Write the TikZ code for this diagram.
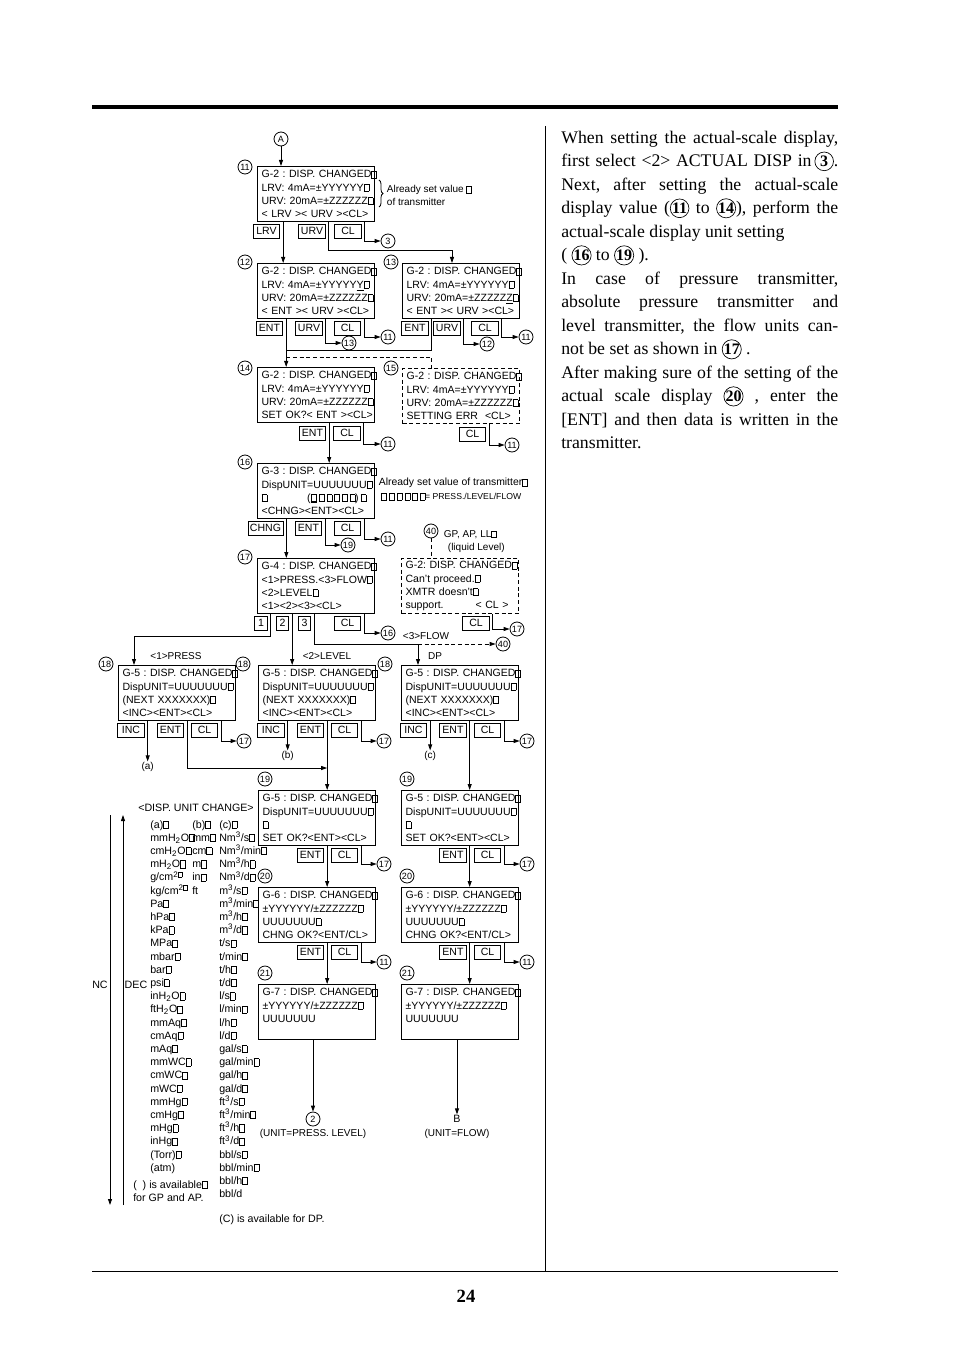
\documentclass[tikz,border=0pt]{standalone}
\usepackage{fontspec}
\setmainfont{Liberation Serif}
\setsansfont{Liberation Sans}
\usetikzlibrary{positioning,arrows.meta,decorations.pathreplacing}
\setlength{\parindent}{0pt}
\frenchspacing
\newcommand{\sq}{{\setlength{\fboxsep}{0pt}\setlength{\fboxrule}{0.4pt}\fbox{\rule{0pt}{0.62em}\hspace{0.42em}}}}
\newcommand{\sqb}{{\setlength{\fboxsep}{0pt}\setlength{\fboxrule}{1pt}\fbox{\rule{0pt}{0.56em}\hspace{0.36em}}}}
\newcommand{\sqrow}{\sqb\kern1.6pt\sq\kern1.6pt\sq\kern1.6pt\sq\kern1.6pt\sq\kern1.6pt\sq}
\newcommand{\lcdtext}[4]{\mbox{#1}\\\mbox{#2}\\\mbox{#3}\\\mbox{#4}}
\newcommand{\cnum}[1]{\tikz[baseline=(cn.base)]\node[circle, draw, line width=0.5pt, inner sep=0pt,
  minimum size=14pt, font=\fontsize{12}{12}\selectfont\bfseries] (cn) {#1};}

\begin{document}
\begin{tikzpicture}[x=0.75pt, y=-0.75pt,
  lcd/.style={draw, line width=0.9pt, anchor=north west, minimum width=87.75pt,
              minimum height=41.25pt, text width=81.75pt, inner xsep=3pt, inner ysep=0pt,
              align=left, font=\sffamily\fontsize{7.9}{10}\selectfont},
  lcdd/.style={lcd, dash pattern=on 3pt off 2pt},
  btn/.style={draw, line width=0.6pt, anchor=north, minimum width=20pt, minimum height=10.5pt,
              inner xsep=1.5pt, inner ysep=0pt, outer xsep=2.5pt, outer ysep=0pt,
              font=\sffamily\fontsize{7.9}{9}\selectfont},
  dig/.style={btn, minimum width=9.5pt},
  circnum/.style={circle, draw, line width=0.6pt, inner sep=0pt, minimum size=10.5pt,
              font=\sffamily\fontsize{6.8}{7}\selectfont},
  lbl/.style={inner sep=0.5pt, align=left, font=\sffamily\fontsize{7.5}{9.75}\selectfont},
  lst/.style={anchor=north west, inner sep=0pt, align=left, font=\sffamily\fontsize{8}{9.9}\selectfont},
  desc/.style={anchor=north west, inner sep=0pt, text width=207.75pt, align=justify,
              font=\rmfamily\fontsize{13.3}{17.63}\selectfont,
              execute at begin node={\tolerance=10000\relax}},
  arr/.style={-{Stealth[length=4.5pt, width=3pt, inset=0pt]}, line width=0.6pt},
  ln/.style={line width=0.6pt},
  dln/.style={line width=0.6pt, dash pattern=on 3pt off 2pt}
]
  \useasboundingbox (0,0) rectangle (954,1351);

  \draw[line width=3pt] (92,107) -- (838,107);
  \draw[ln] (92,1271) -- (838,1271);
  \draw[ln] (545,126) -- (545,1271);
  \node[font=\rmfamily\bfseries\fontsize{14}{14}\selectfont] (pg) at (466,1296) {24};

  % G-2 screens
  \node[circnum] (nA) at (281,139) {A};
  \node[circnum] (l11) at (245,167) {11};
  \node[lcd] (g2a) at (257,166) {\lcdtext{G-2 : DISP. CHANGED\sq}{LRV: 4mA=±YYYYYY\sq}
    {URV: 20mA=±ZZZZZZ\sq}{< LRV >< URV ><CL>}};
  \draw[decorate, decoration={brace, amplitude=3pt}, line width=0.6pt] (379,180) -- (379,207);
  \node[lbl, anchor=west] (note1) at (386,195.5) {Already set value \sq\\of transmitter};
  \node[btn] (g2a-lrv) at (266.5,224) {LRV};
  \node[btn] (g2a-urv) at (312,224) {URV};
  \node[btn] (g2a-cl) at (348,224) {CL};
  \node[circnum] (t3) at (388,241) {3};
  \coordinate (c1) at (452,250);

  \node[circnum] (l12) at (245,262) {12};
  \node[lcd] (g2b) at (257,263) {\lcdtext{G-2 : DISP. CHANGED\sq}{LRV: 4mA=±YYYYY\underline{Y}\sq}
    {URV: 20mA=±ZZZZZZ\sq}{< ENT >< URV ><CL>}};
  \node[btn] (g2b-ent) at (269.5,321) {ENT};
  \node[btn] (g2b-urv) at (309,321) {URV};
  \node[btn] (g2b-cl) at (347.5,321) {CL};
  \node[circnum] (t13) at (349,343) {13};
  \node[circnum] (t11a) at (388,337) {11};

  \node[circnum] (l13) at (391,262) {13};
  \node[lcd] (g2c) at (402,263) {\lcdtext{G-2 : DISP. CHANGED\sq}{LRV: 4mA=±YYYYYY\sq}
    {URV: 20mA=±ZZZZZ\underline{Z}\sq}{< ENT >< URV ><CL>}};
  \node[btn] (g2c-ent) at (415,321) {ENT};
  \node[btn] (g2c-urv) at (447,321) {URV};
  \node[btn] (g2c-cl) at (485,321) {CL};
  \node[circnum] (t12) at (487,344) {12};
  \node[circnum] (t11b) at (526,337) {11};
  \coordinate (j1) at (g2b-ent.east |- 0,350);
  \coordinate (j2) at (g2b-ent.east |- 0,357);

  \node[circnum] (l14) at (245,368) {14};
  \node[lcd] (g2d) at (257,367) {\lcdtext{G-2 : DISP. CHANGED\sq}{LRV: 4mA=±YYYYYY\sq}
    {URV: 20mA=±ZZZZZZ\sq}{SET OK?< ENT ><CL>}};
  \node[btn] (g2d-ent) at (312.5,426) {ENT};
  \node[btn] (g2d-cl) at (347,426) {CL};
  \node[circnum] (t11c) at (388,444) {11};

  \node[circnum] (l15) at (391,368) {15};
  \node[lcdd] (g2e) at (402,368) {\lcdtext{G-2 : DISP. CHANGED\sq}{LRV: 4mA=±YYYYYY\sq}
    {URV: 20mA=±ZZZZZZ\sq}{SETTING ERR\ \ <CL>}};
  \node[btn] (g2e-cl) at (472.5,427) {CL};
  \node[circnum] (t11d) at (512,445) {11};

  % G-3, G-4
  \node[circnum] (l16) at (245,462) {16};
  \node[lcd] (g3) at (257,463) {\lcdtext{G-3 : DISP. CHANGED\sq}{DispUNIT=UUUUUUU\sq}
    {\sq\hspace{30pt}(\sqrow)\kern1.6pt\sq}{<CHNG><ENT><CL>}};
  \node[lbl, anchor=west, font=\sffamily\fontsize{7.8}{9}\selectfont] (note2) at (378,483)
    {Already set value of transmitter\sq};
  \node[lbl, anchor=west, font=\sffamily\fontsize{7.8}{9}\selectfont] (note3) at (380,497)
    {\sqrow{\fontsize{6.5}{8}\selectfont= PRESS./LEVEL/FLOW}};
  \node[btn] (g3-chng) at (265.5,521) {CHNG};
  \node[btn] (g3-ent) at (308.5,521) {ENT};
  \node[btn] (g3-cl) at (347.5,521) {CL};
  \node[circnum] (t19) at (348,545) {19};
  \node[circnum] (t11e) at (388,539) {11};

  \node[circnum] (l40) at (431,531) {40};
  \node[lbl, anchor=west] (note4) at (443,541.5) {GP, AP, LL\sq\\\hspace{3pt}(liquid Level)};

  \node[circnum] (l17) at (245,557) {17};
  \node[lcd] (g4) at (257,558) {\lcdtext{G-4 : DISP. CHANGED\sq}{<1>PRESS.<3>FLOW\sq}
    {<2>LEVEL\sq}{<1><2><3><CL>}};
  \node[dig] (g4-k1) at (261,616) {1};
  \node[dig] (g4-k2) at (282.5,616) {2};
  \node[dig] (g4-k3) at (304.5,616) {3};
  \node[btn] (g4-cl) at (347.5,616) {CL};
  \node[circnum] (t16) at (388,633) {16};

  \node[lcdd] (err) at (401,558) {\lcdtext{G-2: DISP. CHANGED\sq}{Can't proceed.\sq}
    {XMTR doesn't\sq}{support.\hspace{24pt}< CL >}};
  \node[btn] (err-cl) at (476,616) {CL};
  \node[circnum] (t17a) at (517,629) {17};

  \node[lbl] (p1) at (176,656) {<1>PRESS};
  \node[lbl] (p2) at (327,656) {<2>LEVEL};
  \node[lbl] (p3) at (426,636) {<3>FLOW};
  \node[lbl] (p4) at (435,656) {DP};
  \node[circnum] (t40) at (503,644) {40};
  \coordinate (j4) at (134,636);
  \coordinate (j5) at (418,644);

  % G-5 unit screens
  \node[circnum] (l18a) at (106,664) {18};
  \node[circnum] (l18b) at (243,664) {18};
  \node[circnum] (l18c) at (385,664) {18};
  \node[lcd] (g5a) at (118,665) {\lcdtext{G-5 : DISP. CHANGED\sq}{DispUNIT=UUUUUUU\sq}
    {(NEXT XXXXXXX)\sq}{<INC><ENT><CL>}};
  \node[lcd] (g5b) at (258,665) {\lcdtext{G-5 : DISP. CHANGED\sq}{DispUNIT=UUUUUUU\sq}
    {(NEXT XXXXXXX)\sq}{<INC><ENT><CL>}};
  \node[lcd] (g5c) at (401,665) {\lcdtext{G-5 : DISP. CHANGED\sq}{DispUNIT=UUUUUUU\sq}
    {(NEXT XXXXXXX)\sq}{<INC><ENT><CL>}};
  \node[btn] (g5a-inc) at (131,723) {INC};
  \node[btn] (g5a-ent) at (170.5,723) {ENT};
  \node[btn] (g5a-cl) at (204.5,723) {CL};
  \node[btn] (g5b-inc) at (271,723) {INC};
  \node[btn] (g5b-ent) at (310.5,723) {ENT};
  \node[btn] (g5b-cl) at (344.5,723) {CL};
  \node[btn] (g5c-inc) at (413.5,723) {INC};
  \node[btn] (g5c-ent) at (453,723) {ENT};
  \node[btn] (g5c-cl) at (487.5,723) {CL};
  \node[circnum] (t17b) at (244,741) {17};
  \node[circnum] (t17c) at (384,741) {17};
  \node[circnum] (t17d) at (527,741) {17};
  \node[lbl] (la) at (g5a-inc.east |- 0,767) {(a)};
  \node[lbl] (lb) at (g5b-inc.east |- 0,756) {(b)};
  \node[lbl] (lc) at (g5c-inc.east |- 0,756) {(c)};

  \node[circnum] (l19l) at (265,779) {19};
  \node[circnum] (l19r) at (407,779) {19};
  \node[lcd] (g5l) at (258,790) {\lcdtext{G-5 : DISP. CHANGED\sq}{DispUNIT=UUUUUUU\sq}
    {\sq}{SET OK?<ENT><CL>}};
  \node[lcd] (g5r) at (401,790) {\lcdtext{G-5 : DISP. CHANGED\sq}{DispUNIT=UUUUUUU\sq}
    {\sq}{SET OK?<ENT><CL>}};
  \node[btn] (g5l-ent) at (310.5,848) {ENT};
  \node[btn] (g5l-cl) at (344.5,848) {CL};
  \node[btn] (g5r-ent) at (453,848) {ENT};
  \node[btn] (g5r-cl) at (487.5,848) {CL};
  \node[circnum] (t17e) at (384,864) {17};
  \node[circnum] (t17f) at (527,864) {17};

  \node[circnum] (l20l) at (265,876) {20};
  \node[circnum] (l20r) at (407,876) {20};
  \node[lcd] (g6l) at (258,887) {\lcdtext{G-6 : DISP. CHANGED\sq}{±YYYYYY/±ZZZZZZ\sq}
    {UUUUUUU\sq}{CHNG OK?<ENT/CL>}};
  \node[lcd] (g6r) at (401,887) {\lcdtext{G-6 : DISP. CHANGED\sq}{±YYYYYY/±ZZZZZZ\sq}
    {UUUUUUU\sq}{CHNG OK?<ENT/CL>}};
  \node[btn] (g6l-ent) at (310.5,945) {ENT};
  \node[btn] (g6l-cl) at (344.5,945) {CL};
  \node[btn] (g6r-ent) at (453,945) {ENT};
  \node[btn] (g6r-cl) at (487.5,945) {CL};
  \node[circnum] (t11f) at (384,962) {11};
  \node[circnum] (t11g) at (527,962) {11};

  \node[circnum] (l21l) at (265,973) {21};
  \node[circnum] (l21r) at (407,973) {21};
  \node[lcd] (g7l) at (258,984) {\lcdtext{G-7 : DISP. CHANGED\sq}{±YYYYYY/±ZZZZZZ\sq}{UUUUUUU}{}};
  \node[lcd] (g7r) at (401,984) {\lcdtext{G-7 : DISP. CHANGED\sq}{±YYYYYY/±ZZZZZZ\sq}{UUUUUUU}{}};
  \node[circnum] (t2) at (313,1119) {2};
  \node[lbl, font=\sffamily\fontsize{8}{9}\selectfont] (nB) at (457,1119) {B};
  \node[lbl] (u1) at (313,1134) {(UNIT=PRESS. LEVEL)};
  \node[lbl] (u2) at (457,1134) {(UNIT=FLOW)};

  % connectors
  \draw[arr] (nA) -- (nA |- g2a.north);
  \draw[arr] (g2a.south -| g2a-lrv.east) -- (g2b.north -| g2a-lrv.east);
  \draw[arr] (g2a.south -| g2a-urv.east) |- (c1) -- (c1 |- g2c.north);
  \draw[arr] (g2a.south -| g2a-cl.east) |- (t3);

  \draw[arr] (g2b.south -| g2b-ent.east) -- (g2d.north -| g2b-ent.east);
  \draw[ln] (g2c.south -| g2c-ent.east) |- (j1);
  \draw[dln] (j2) -| (g2e.north -| g2c-ent.east);
  \draw[arr] (g2b.south -| g2b-urv.east) |- (t13);
  \draw[arr] (g2b.south -| g2b-cl.east) |- (t11a);
  \draw[arr] (g2c.south -| g2c-urv.east) |- (t12);
  \draw[arr] (g2c.south -| g2c-cl.east) |- (t11b);

  \draw[arr] (g2d.south -| g2d-ent.east) -- (g3.north -| g2d-ent.east);
  \draw[arr] (g2d.south -| g2d-cl.east) |- (t11c);
  \draw[arr] (g2e.south -| g2e-cl.east) |- (t11d);

  \draw[arr] (g3.south -| g3-chng.east) -- (g4.north -| g3-chng.east);
  \draw[arr] (g3.south -| g3-ent.east) |- (t19);
  \draw[arr] (g3.south -| g3-cl.east) |- (t11e);
  \draw[dln] (l40) -- (l40 |- err.north);

  \draw[arr] (g4.south -| g4-k1.east) |- (j4) -- (j4 |- g5a.north);
  \draw[arr] (g4.south -| g4-k2.east) -- (g5b.north -| g4-k2.east);
  \draw[ln] (g4.south -| g4-k3.east) |- (j5);
  \draw[arr] (j5) -- (j5 |- g5c.north);
  \draw[arr, dash pattern=on 3pt off 2pt] (j5) -- (t40);
  \draw[arr] (g4.south -| g4-cl.east) |- (t16);
  \draw[arr] (err.south -| err-cl.east) |- (t17a);

  \draw[arr] (g5a.south -| la) -- (la);
  \draw[arr] (g5a.south -| g5a-ent.east) |- (g5b-ent.east |- 0,768);
  \draw[arr] (g5a.south -| g5a-cl.east) |- (t17b);
  \draw[arr] (g5b.south -| lb) -- (lb);
  \draw[arr] (g5b.south -| g5b-ent.east) -- (g5l.north -| g5b-ent.east);
  \draw[arr] (g5b.south -| g5b-cl.east) |- (t17c);
  \draw[arr] (g5c.south -| lc) -- (lc);
  \draw[arr] (g5c.south -| g5c-ent.east) -- (g5r.north -| g5c-ent.east);
  \draw[arr] (g5c.south -| g5c-cl.east) |- (t17d);

  \draw[arr] (g5l.south -| g5l-ent.east) -- (g6l.north -| g5l-ent.east);
  \draw[arr] (g5l.south -| g5l-cl.east) |- (t17e);
  \draw[arr] (g5r.south -| g5r-ent.east) -- (g6r.north -| g5r-ent.east);
  \draw[arr] (g5r.south -| g5r-cl.east) |- (t17f);
  \draw[arr] (g6l.south -| g6l-ent.east) -- (g7l.north -| g6l-ent.east);
  \draw[arr] (g6l.south -| g6l-cl.east) |- (t11f);
  \draw[arr] (g6r.south -| g6r-ent.east) -- (g7r.north -| g6r-ent.east);
  \draw[arr] (g6r.south -| g6r-cl.east) |- (t11g);
  \draw[arr] (g7l.south -| t2) -- (t2);
  \draw[arr] (g7r.south -| nB) -- (nB);

  % unit list
  \node[lst, anchor=center] (hdr) at (196,808) {<DISP. UNIT CHANGE>};
  \node[lst] (cola) at (150,820) {(a)\sq\\mmH\textsubscript{2}O\sq\\cmH\textsubscript{2}O\sq\\
    mH\textsubscript{2}O\sq\\g/cm\textsuperscript{2\sq}\\kg/cm\textsuperscript{2\sq}\\Pa\sq\\hPa\sq\\
    kPa\sq\\MPa\sq\\mbar\sq\\bar\sq\\psi\sq\\inH\textsubscript{2}O\sq\\ftH\textsubscript{2}O\sq\\
    mmAq\sq\\cmAq\sq\\mAq\sq\\mmWC\sq\\cmWC\sq\\mWC\sq\\mmHg\sq\\cmHg\sq\\mHg\sq\\inHg\sq\\
    (Torr)\sq\\(atm)};
  \node[lst] (colb) at (192,820) {(b)\sq\\mm\sq\\cm\sq\\m\sq\\in\sq\\ft};
  \node[lst] (colc) at (219,820) {(c)\sq\\Nm\textsuperscript{3}/s\sq\\Nm\textsuperscript{3}/min\sq\\
    Nm\textsuperscript{3}/h\sq\\Nm\textsuperscript{3}/d\sq\\m\textsuperscript{3}/s\sq\\
    m\textsuperscript{3}/min\sq\\m\textsuperscript{3}/h\sq\\m\textsuperscript{3}/d\sq\\t/s\sq\\
    t/min\sq\\t/h\sq\\t/d\sq\\l/s\sq\\l/min\sq\\l/h\sq\\l/d\sq\\gal/s\sq\\gal/min\sq\\gal/h\sq\\
    gal/d\sq\\ft\textsuperscript{3}/s\sq\\ft\textsuperscript{3}/min\sq\\ft\textsuperscript{3}/h\sq\\
    ft\textsuperscript{3}/d\sq\\bbl/s\sq\\bbl/min\sq\\bbl/h\sq\\bbl/d};
  \node[lst] (avail) at (133,1180) {(\ \ ) is available\sq\\for GP and AP.};
  \node[lst, anchor=west] (fordp) at (219,1220) {(C) is available for DP.};
  \node[lst, anchor=center] (nc) at (100,985) {NC};
  \node[lst, anchor=center] (dec) at (136,985) {DEC};
  \coordinate (nc-top) at (110,815);
  \coordinate (nc-bot) at (110,1205);
  \coordinate (dec-top) at (123,815);
  \coordinate (dec-bot) at (123,1205);
  \draw[arr] (nc-top) -- (nc-bot);
  \draw[arr] (dec-bot) -- (dec-top);

  % description
  \node[desc] (txt) at (561,130.5) {When setting the actual-scale display,\linebreak
    first select <2> ACTUAL DISP in\,\cnum{3}.\linebreak
    Next, after setting the actual-scale\linebreak
    display value (\cnum{11} to \cnum{14}), perform the\linebreak
    actual-scale display unit setting\newline
    ( \cnum{16} to \cnum{19} ).\par
    In case of pressure transmitter,\linebreak
    absolute pressure transmitter and\linebreak
    level transmitter, the flow units can-\linebreak
    not be set as shown in \cnum{17} .\par
    After making sure of the setting of the\linebreak
    actual scale display \cnum{20} , enter the\linebreak
    {[ENT]} and then data is written in the\linebreak
    transmitter.};
\end{tikzpicture}
\end{document}
